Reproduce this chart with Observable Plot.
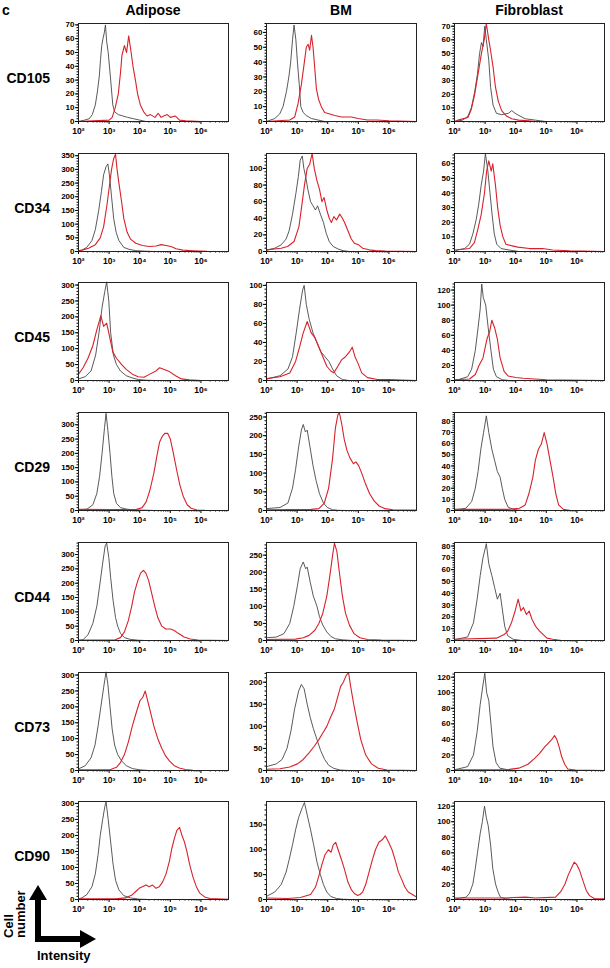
<!DOCTYPE html>
<html><head><meta charset="utf-8">
<script src="https://cdn.jsdelivr.net/npm/d3@7"></script>
<script src="https://cdn.jsdelivr.net/npm/@observablehq/plot@0.6"></script>
<style>
body{margin:0;background:#fff;}
#fig{position:relative;width:610px;height:968px;overflow:hidden;font-family:"Liberation Sans",Arial,sans-serif;font-weight:bold;color:#000;}
.abs{position:absolute;white-space:nowrap;line-height:1;}
.title{font-size:14px;transform:translateX(-50%);}
.row{font-size:14px;text-align:right;width:50px;left:0;}
svg{overflow:visible;}
</style></head><body><div id="fig"></div>
<script>
const panelLetter = "c";
const tissues = ["Adipose", "BM", "Fibroblast"];
const markers = ["CD105", "CD34", "CD45", "CD29", "CD44", "CD73", "CD90"];
const xTicks = [2, 3, 4, 5, 6];
const xTickLabels = ["10²", "10³", "10⁴", "10⁵", "10⁶"];
const xDomain = [2, 6.9];
// y-axis top value and tick step, [marker row][tissue column]
const yMax = [[71, 66, 72], [358, 118, 67], [308, 103, 130], [343, 262, 88], [342, 287, 83], [308, 222, 126], [306, 197, 126]];
const yStep = [[10, 10, 10], [50, 20, 10], [50, 20, 20], [50, 50, 10], [50, 50, 10], [50, 50, 20], [50, 50, 20]];

// histograms: [log10 intensity, cell number]; iso = grey control, ab = red stained
const cd105_adipose_iso = [[2.0,0],[2.2,1],[2.35,2],[2.45,5],[2.55,12],[2.62,22],[2.68,33],[2.72,45],[2.76,55],[2.8,60],[2.84,64],[2.88,70],[2.92,58],[2.97,50],[3.02,38],[3.07,25],[3.12,12],[3.18,7],[3.3,5],[3.45,4],[3.6,3],[3.8,2],[4.0,1],[4.2,0],[6.9,0]];
const cd105_adipose_ab = [[2.0,0],[3.0,1],[3.1,3],[3.2,10],[3.3,20],[3.37,35],[3.42,48],[3.5,55],[3.57,50],[3.64,62],[3.72,50],[3.78,40],[3.86,30],[3.93,20],[4.02,12],[4.13,7],[4.24,4],[4.35,5],[4.5,3],[4.6,6],[4.7,3],[4.78,4],[4.9,5],[5.0,3],[5.16,4],[5.3,1],[5.5,0.5],[6.0,0],[6.9,0]];
const cd105_bm_iso = [[2.0,0],[2.27,2],[2.43,5],[2.54,10],[2.65,20],[2.73,30],[2.79,40],[2.85,55],[2.9,65],[2.96,55],[3.01,40],[3.07,25],[3.12,10],[3.2,6],[3.3,4],[3.47,2],[3.68,1],[3.9,0],[6.9,0]];
const cd105_bm_ab = [[2.0,0],[2.76,1],[2.92,3],[3.03,12],[3.14,25],[3.25,42],[3.3,50],[3.36,52],[3.41,48],[3.47,58],[3.52,50],[3.58,35],[3.63,22],[3.7,15],[3.79,10],[3.9,6],[4.07,5],[4.23,4],[4.45,3],[4.77,3],[4.99,2],[5.3,1],[5.6,1],[6.0,0.5],[6.9,0]];
const cd105_fib_iso = [[2.0,0],[2.27,1],[2.44,4],[2.55,10],[2.66,22],[2.75,35],[2.82,50],[2.88,58],[2.93,55],[2.99,70],[3.04,60],[3.12,45],[3.18,25],[3.26,12],[3.37,6],[3.54,5],[3.76,6],[3.87,8],[3.98,6],[4.14,4],[4.31,2],[4.64,1],[4.97,0],[6.9,0]];
const cd105_fib_ab = [[2.0,0],[2.11,1],[2.44,3],[2.55,9],[2.66,20],[2.77,35],[2.88,50],[2.97,60],[3.04,72],[3.12,60],[3.18,52],[3.26,40],[3.34,25],[3.43,15],[3.54,8],[3.7,4],[3.87,2],[4.09,1],[4.42,0.5],[4.64,0],[6.9,0]];

const cd34_adipose_iso = [[2.0,2],[2.11,5],[2.27,15],[2.44,40],[2.55,80],[2.66,150],[2.75,220],[2.82,280],[2.9,310],[2.96,320],[3.01,280],[3.08,200],[3.15,120],[3.23,70],[3.32,40],[3.48,15],[3.65,8],[3.87,3],[4.2,1],[4.5,0],[6.9,0]];
const cd34_adipose_ab = [[2.0,3],[2.11,5],[2.33,12],[2.55,25],[2.71,50],[2.82,90],[2.93,170],[3.01,240],[3.08,300],[3.15,340],[3.21,355],[3.26,300],[3.32,250],[3.41,180],[3.48,120],[3.59,70],[3.7,45],[3.87,30],[4.09,22],[4.31,18],[4.53,20],[4.7,25],[4.86,22],[5.02,18],[5.19,10],[5.41,5],[5.74,3],[6.2,1],[6.9,0]];
const cd34_bm_iso = [[2.0,1],[2.05,2],[2.27,4],[2.48,8],[2.64,15],[2.74,25],[2.85,45],[2.96,70],[3.04,90],[3.1,110],[3.17,115],[3.22,100],[3.28,90],[3.35,75],[3.44,60],[3.52,55],[3.6,50],[3.67,55],[3.76,45],[3.86,35],[3.95,22],[4.05,12],[4.18,6],[4.34,3],[4.5,1],[4.7,0],[6.9,0]];
const cd34_bm_ab = [[2.0,2],[2.48,4],[2.69,6],[2.9,12],[3.06,30],[3.17,60],[3.24,80],[3.33,100],[3.41,105],[3.49,118],[3.56,100],[3.65,85],[3.73,75],[3.81,60],[3.88,65],[3.97,50],[4.05,40],[4.12,35],[4.2,42],[4.29,38],[4.39,45],[4.48,40],[4.55,35],[4.66,25],[4.77,15],[4.87,10],[5.01,8],[5.14,4],[5.35,2],[5.56,1],[5.88,0.5],[6.9,0]];
const cd34_fib_iso = [[2.0,0],[2.1,1],[2.33,2],[2.49,5],[2.6,12],[2.71,22],[2.79,32],[2.87,45],[2.95,55],[3.01,67],[3.09,55],[3.16,40],[3.23,25],[3.3,12],[3.38,5],[3.52,2],[3.79,1],[4.1,0],[6.9,0]];
const cd34_fib_ab = [[2.0,1],[2.49,2],[2.65,6],[2.76,15],[2.87,25],[2.98,40],[3.05,55],[3.12,62],[3.2,55],[3.25,60],[3.34,45],[3.41,30],[3.49,18],[3.58,10],[3.68,5],[3.85,4],[4.07,3],[4.45,2],[4.88,2],[5.2,1],[5.75,0.5],[6.9,0]];

const cd45_adipose_iso = [[2.0,5],[2.22,12],[2.41,30],[2.56,80],[2.67,150],[2.77,230],[2.86,280],[2.92,310],[2.99,250],[3.05,150],[3.14,80],[3.24,50],[3.37,30],[3.56,15],[3.76,8],[3.95,3],[4.21,1],[4.5,0],[6.9,0]];
const cd45_adipose_ab = [[2.0,20],[2.15,40],[2.31,70],[2.47,110],[2.6,160],[2.73,204],[2.82,170],[2.92,180],[3.01,140],[3.12,90],[3.24,70],[3.41,50],[3.56,35],[3.76,20],[3.95,12],[4.14,10],[4.33,20],[4.53,30],[4.65,40],[4.78,35],[4.97,28],[5.17,15],[5.36,5],[5.62,2],[6.0,0],[6.9,0]];
const cd45_bm_iso = [[2.0,1],[2.06,2],[2.44,5],[2.7,12],[2.85,25],[2.97,50],[3.08,75],[3.18,95],[3.23,100],[3.3,80],[3.39,65],[3.52,50],[3.65,40],[3.78,30],[3.91,25],[4.04,20],[4.16,12],[4.29,5],[4.48,1],[4.7,0],[6.9,0]];
const cd45_bm_ab = [[2.0,2],[2.44,4],[2.76,8],[2.95,20],[3.08,35],[3.2,50],[3.33,62],[3.46,50],[3.58,45],[3.71,35],[3.84,25],[3.97,15],[4.1,10],[4.2,8],[4.33,15],[4.46,22],[4.58,25],[4.71,30],[4.8,35],[4.89,25],[4.99,18],[5.11,8],[5.3,3],[5.62,1],[6.0,1],[6.4,0.5],[6.9,0]];
const cd45_fib_iso = [[2.0,0],[2.12,1],[2.43,5],[2.56,15],[2.68,40],[2.77,70],[2.84,95],[2.89,128],[2.94,110],[3.02,100],[3.1,70],[3.19,40],[3.27,15],[3.37,5],[3.56,1],[3.8,0],[6.9,0]];
const cd45_fib_ab = [[2.0,1],[2.49,2],[2.68,8],[2.8,20],[2.93,30],[3.06,55],[3.15,65],[3.22,80],[3.31,70],[3.4,55],[3.49,30],[3.62,12],[3.75,6],[4.0,4],[4.25,3],[4.62,2],[5.0,1],[5.6,0.5],[6.9,0]];

const cd29_adipose_iso = [[2.0,2],[2.28,5],[2.47,20],[2.6,60],[2.69,120],[2.77,200],[2.85,290],[2.9,340],[2.96,280],[3.03,200],[3.09,120],[3.15,60],[3.24,25],[3.37,10],[3.56,5],[3.82,2],[4.21,1],[4.5,0],[6.9,0]];
const cd29_adipose_ab = [[2.0,4],[3.0,3],[3.88,3],[4.08,10],[4.21,30],[4.33,70],[4.46,130],[4.56,190],[4.65,240],[4.74,260],[4.82,270],[4.91,270],[5.0,250],[5.1,200],[5.21,140],[5.31,90],[5.42,50],[5.55,20],[5.68,8],[5.87,2],[6.13,0.5],[6.9,0]];
const cd29_bm_iso = [[2.0,5],[2.44,8],[2.7,20],[2.85,60],[2.95,110],[3.05,170],[3.14,215],[3.2,230],[3.27,210],[3.33,215],[3.42,170],[3.52,120],[3.62,80],[3.73,45],[3.86,20],[3.99,8],[4.16,2],[4.35,0.5],[4.6,0],[6.9,0]];
const cd29_bm_ab = [[2.0,2],[3.46,3],[3.71,5],[3.89,20],[4.03,60],[4.16,140],[4.25,220],[4.33,255],[4.38,262],[4.46,230],[4.54,190],[4.63,160],[4.73,140],[4.84,125],[4.92,130],[5.01,120],[5.11,100],[5.24,70],[5.37,45],[5.52,25],[5.68,12],[5.87,5],[6.13,2],[6.5,1],[6.9,1]];
const cd29_fib_iso = [[2.0,0],[2.12,1],[2.37,2],[2.56,8],[2.68,20],[2.77,35],[2.86,55],[2.95,70],[3.04,85],[3.12,70],[3.22,55],[3.31,45],[3.4,35],[3.49,30],[3.56,20],[3.64,10],[3.75,3],[3.93,1],[4.2,0],[6.9,0]];
const cd29_fib_ab = [[2.0,1],[3.75,1],[4.12,2],[4.31,5],[4.43,15],[4.56,30],[4.64,45],[4.74,55],[4.84,60],[4.93,70],[5.02,60],[5.12,45],[5.22,30],[5.31,15],[5.4,5],[5.56,1],[5.8,0],[6.9,0]];

const cd44_adipose_iso = [[2.0,0],[2.15,3],[2.31,20],[2.47,60],[2.6,120],[2.69,190],[2.79,270],[2.87,330],[2.92,340],[2.99,290],[3.05,220],[3.13,140],[3.21,80],[3.28,50],[3.37,25],[3.5,10],[3.69,4],[3.95,1],[4.2,0],[6.9,0]];
const cd44_adipose_ab = [[2.0,2],[3.18,2],[3.37,10],[3.5,30],[3.63,70],[3.74,120],[3.83,170],[3.94,210],[4.03,235],[4.12,245],[4.2,235],[4.29,210],[4.38,170],[4.49,120],[4.59,80],[4.72,50],[4.85,40],[5.0,40],[5.13,35],[5.26,25],[5.45,12],[5.65,5],[5.9,2],[6.3,1],[6.9,0]];
const cd44_bm_iso = [[2.0,8],[2.32,10],[2.57,20],[2.76,50],[2.89,100],[3.01,160],[3.1,210],[3.2,230],[3.28,210],[3.33,215],[3.43,170],[3.53,130],[3.65,100],[3.73,70],[3.84,45],[3.97,25],[4.1,12],[4.25,5],[4.48,2],[4.8,0],[6.9,0]];
const cd44_bm_ab = [[2.0,3],[2.95,4],[3.2,8],[3.39,15],[3.58,30],[3.71,50],[3.84,80],[3.97,130],[4.07,190],[4.16,250],[4.22,285],[4.3,260],[4.38,200],[4.48,130],[4.58,80],[4.71,45],[4.86,20],[5.05,8],[5.3,3],[5.75,1],[6.9,0]];
const cd44_fib_iso = [[2.0,0],[2.06,1],[2.43,3],[2.62,15],[2.74,35],[2.84,55],[2.93,70],[3.04,82],[3.12,65],[3.22,55],[3.31,45],[3.4,35],[3.49,40],[3.57,25],[3.64,12],[3.74,4],[3.92,1],[4.2,0],[6.9,0]];
const cd44_fib_ab = [[2.0,1],[3.37,2],[3.62,5],[3.74,8],[3.86,15],[3.98,25],[4.08,35],[4.17,25],[4.25,28],[4.35,22],[4.44,25],[4.53,18],[4.65,12],[4.78,8],[4.9,5],[5.02,2],[5.21,1],[5.5,0],[6.9,0]];

const cd73_adipose_iso = [[2.0,5],[2.22,15],[2.41,40],[2.54,80],[2.64,140],[2.73,200],[2.82,260],[2.9,310],[2.96,270],[3.03,200],[3.1,130],[3.18,80],[3.28,50],[3.41,30],[3.56,15],[3.76,6],[4.01,2],[4.3,0],[6.9,0]];
const cd73_adipose_ab = [[2.0,2],[3.05,3],[3.24,10],[3.37,25],[3.5,50],[3.63,90],[3.76,140],[3.88,180],[4.01,220],[4.1,230],[4.18,250],[4.27,215],[4.36,180],[4.46,140],[4.59,100],[4.72,70],[4.85,45],[4.97,30],[5.13,15],[5.29,8],[5.49,3],[5.74,1],[6.1,0],[6.9,0]];
const cd73_bm_iso = [[2.0,8],[2.06,10],[2.32,15],[2.51,25],[2.67,50],[2.8,90],[2.92,140],[3.05,180],[3.14,195],[3.23,185],[3.33,150],[3.43,120],[3.53,95],[3.65,70],[3.77,45],[3.9,25],[4.03,12],[4.19,5],[4.41,1],[4.7,0],[6.9,0]];
const cd73_bm_ab = [[2.0,3],[2.44,4],[2.76,8],[3.01,15],[3.2,25],[3.39,40],[3.56,55],[3.71,70],[3.84,85],[3.97,100],[4.09,120],[4.22,140],[4.32,165],[4.42,190],[4.51,200],[4.6,215],[4.68,222],[4.75,190],[4.85,150],[4.96,110],[5.08,70],[5.24,35],[5.43,15],[5.65,5],[5.94,1],[6.9,0]];
const cd73_fib_iso = [[2.0,1],[2.12,2],[2.43,5],[2.62,20],[2.74,50],[2.84,85],[2.93,110],[2.99,125],[3.05,100],[3.12,90],[3.19,60],[3.26,30],[3.36,10],[3.48,3],[3.73,1],[4.0,0],[6.9,0]];
const cd73_fib_ab = [[2.0,1],[3.73,1],[4.1,3],[4.4,8],[4.6,15],[4.78,22],[4.94,30],[5.06,35],[5.18,40],[5.27,45],[5.34,40],[5.42,30],[5.5,18],[5.6,8],[5.7,2],[5.95,0.5],[6.9,0]];

const cd90_adipose_iso = [[2.0,2],[2.11,5],[2.27,15],[2.44,40],[2.55,80],[2.64,140],[2.71,200],[2.79,250],[2.86,290],[2.9,305],[2.97,250],[3.05,180],[3.13,110],[3.21,60],[3.32,30],[3.48,12],[3.7,5],[3.98,1],[4.3,0],[6.9,0]];
const cd90_adipose_ab = [[2.0,2],[3.21,2],[3.54,5],[3.76,15],[3.87,25],[3.98,35],[4.09,40],[4.2,45],[4.31,40],[4.42,45],[4.53,35],[4.64,40],[4.75,55],[4.86,80],[4.97,120],[5.05,160],[5.13,190],[5.21,215],[5.3,225],[5.38,200],[5.46,180],[5.54,150],[5.63,110],[5.74,70],[5.85,40],[5.96,20],[6.12,8],[6.29,3],[6.9,1]];
const cd90_bm_iso = [[2.0,6],[2.05,8],[2.27,15],[2.48,30],[2.64,55],[2.74,80],[2.85,110],[2.95,140],[3.05,165],[3.17,185],[3.24,195],[3.33,170],[3.44,140],[3.54,110],[3.65,75],[3.76,50],[3.86,30],[3.97,15],[4.1,6],[4.29,2],[4.5,0.5],[4.8,0],[6.9,0]];
const cd90_bm_ab = [[2.0,3],[2.69,2],[3.11,4],[3.44,10],[3.6,25],[3.7,45],[3.81,70],[3.91,90],[4.02,100],[4.11,95],[4.18,110],[4.26,115],[4.34,100],[4.45,80],[4.55,60],[4.66,35],[4.77,20],[4.87,12],[4.98,8],[5.05,10],[5.14,15],[5.24,30],[5.35,55],[5.46,80],[5.56,100],[5.67,115],[5.78,120],[5.88,128],[5.99,115],[6.1,100],[6.2,80],[6.31,55],[6.42,40],[6.52,25],[6.63,15],[6.9,5]];
const cd90_fib_iso = [[2.0,0],[2.05,1],[2.38,3],[2.49,8],[2.6,20],[2.68,40],[2.75,60],[2.84,85],[2.91,100],[2.98,120],[3.04,105],[3.1,95],[3.18,70],[3.25,40],[3.34,20],[3.42,10],[3.5,3],[3.66,1],[3.9,0],[6.9,0]];
const cd90_fib_ab = [[2.0,2],[3.55,2],[4.32,3],[4.65,2],[5.3,3],[5.47,10],[5.61,20],[5.72,32],[5.84,42],[5.91,48],[5.99,45],[6.08,38],[6.19,25],[6.3,12],[6.41,5],[6.58,1],[6.9,1]];

const isoCurves = [
  [cd105_adipose_iso, cd105_bm_iso, cd105_fib_iso],
  [cd34_adipose_iso, cd34_bm_iso, cd34_fib_iso],
  [cd45_adipose_iso, cd45_bm_iso, cd45_fib_iso],
  [cd29_adipose_iso, cd29_bm_iso, cd29_fib_iso],
  [cd44_adipose_iso, cd44_bm_iso, cd44_fib_iso],
  [cd73_adipose_iso, cd73_bm_iso, cd73_fib_iso],
  [cd90_adipose_iso, cd90_bm_iso, cd90_fib_iso]
];
const abCurves = [
  [cd105_adipose_ab, cd105_bm_ab, cd105_fib_ab],
  [cd34_adipose_ab, cd34_bm_ab, cd34_fib_ab],
  [cd45_adipose_ab, cd45_bm_ab, cd45_fib_ab],
  [cd29_adipose_ab, cd29_bm_ab, cd29_fib_ab],
  [cd44_adipose_ab, cd44_bm_ab, cd44_fib_ab],
  [cd73_adipose_ab, cd73_bm_ab, cd73_fib_ab],
  [cd90_adipose_ab, cd90_bm_ab, cd90_fib_ab]
];

// ---- layout ----
const fig = document.getElementById("fig");
const colLeft = [78, 266, 454];
const frameW = 150, frameH = 98;
const rowBottom0 = 121, rowGap = 129.7;
const mL = 28, mR = 6, mT = 6, mB = 16;
const GREY = "#474747", RED = "#d8222a";

function addText(txt, cls, style) {
  const d = document.createElement("div");
  d.className = "abs " + cls;
  d.textContent = txt;
  Object.assign(d.style, style);
  fig.appendChild(d);
  return d;
}
addText(panelLetter, "", {left: "2px", top: "3px", fontSize: "14px"});
const colCenter = colLeft.map(l => l + frameW / 2);
tissues.forEach((t, j) => addText(t, "title", {left: colCenter[j] + "px", top: "3px"}));

const minorX = d3.range(2, 7).flatMap(e => d3.range(2, 10).map(k => e + Math.log10(k))).filter(v => v <= xDomain[1]);

markers.forEach((m, i) => {
  const B = Math.round(rowBottom0 + rowGap * i);
  addText(m, "row", {top: (B - 50) + "px"});
  tissues.forEach((t, j) => {
    const ymax = yMax[i][j], step = yStep[i][j];
    const yt = d3.range(0, ymax + 0.01, step);
    const ytMinor = d3.range(0, ymax + 0.01, step / 5);
    const chart = Plot.plot({
      width: mL + frameW + mR,
      height: mT + frameH + mB,
      marginLeft: mL, marginRight: mR, marginTop: mT, marginBottom: mB,
      style: {fontFamily: "Liberation Sans, Arial, sans-serif", fontSize: "8px", fontWeight: "bold", background: "transparent", color: "#000"},
      x: {domain: xDomain, label: null},
      y: {domain: [0, ymax], label: null},
      marks: [
        Plot.axisX(minorX, {tickSize: 1.5, tickFormat: () => "", label: null}),
        Plot.axisX(xTicks, {tickSize: 3, tickPadding: 3, fontSize: 8.5, tickFormat: d => xTickLabels[xTicks.indexOf(d)], label: null}),
        Plot.axisY(ytMinor, {tickSize: 1.5, tickFormat: () => "", label: null}),
        Plot.axisY(yt, {tickSize: 3, tickPadding: 1, label: null}),
        Plot.line(isoCurves[i][j], {x: d => d[0], y: d => d[1], stroke: GREY, strokeWidth: 0.9}),
        Plot.line(abCurves[i][j], {x: d => d[0], y: d => d[1], stroke: RED, strokeWidth: 1.1}),
        Plot.frame({stroke: "#222", strokeWidth: 1})
      ]
    });
    chart.style.position = "absolute";
    chart.style.left = (colLeft[j] - mL) + "px";
    chart.style.top = (B - frameH - mT) + "px";
    fig.appendChild(chart);
  });
});

// axis legend (arrows)
const ns = "http://www.w3.org/2000/svg";
const leg = document.createElementNS(ns, "svg");
leg.setAttribute("width", 110); leg.setAttribute("height", 90);
leg.style.position = "absolute"; leg.style.left = "0px"; leg.style.top = "878px";
leg.innerHTML = `
  <rect x="35" y="20" width="6" height="44" fill="#000"/>
  <polygon points="29,22 38,7 47,22" fill="#000"/>
  <rect x="35" y="58" width="47" height="6" fill="#000"/>
  <polygon points="80,52 96,61 80,70" fill="#000"/>
  <text transform="translate(13,60) rotate(-90)" font-family="Liberation Sans, Arial, sans-serif" font-weight="bold" font-size="13">Cell</text>
  <text transform="translate(25,60) rotate(-90)" font-family="Liberation Sans, Arial, sans-serif" font-weight="bold" font-size="13">number</text>
  <text x="37" y="82" font-family="Liberation Sans, Arial, sans-serif" font-weight="bold" font-size="13">Intensity</text>`;
fig.appendChild(leg);
</script></body></html>
